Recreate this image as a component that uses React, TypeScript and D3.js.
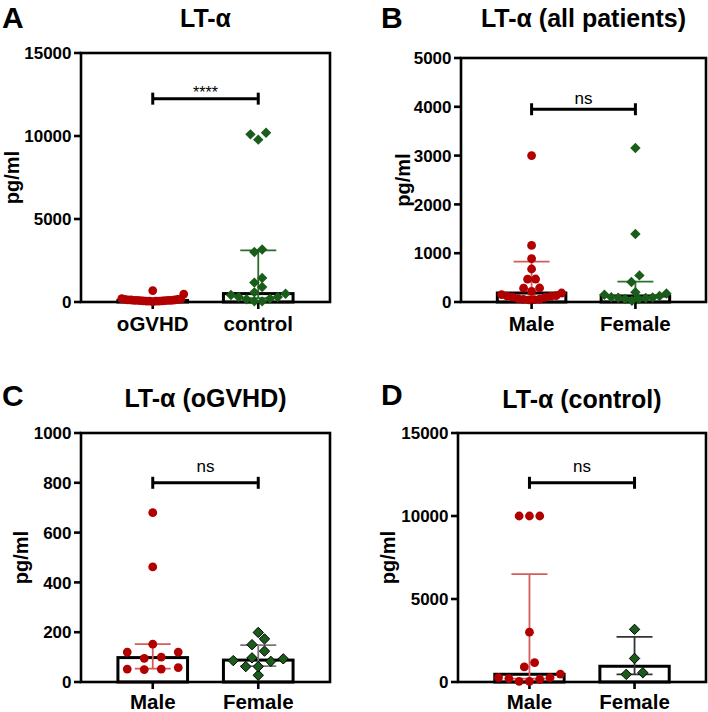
import React from "react";
import * as d3 from "d3";

// ---------- data ----------
const catsA = ["oGVHD", "control"];
const catsSex = ["Male", "Female"];
const yTicksA = [0, 5000, 10000, 15000];
const yTicksB = [0, 1000, 2000, 3000, 4000, 5000];
const yTicksC = [0, 200, 400, 600, 800, 1000];
const yTicksD = [0, 5000, 10000, 15000];

// Panel A
const aOGVHD = [690, 480, 199, 173, 152, 150, 124, 120, 120, 100, 97, 95, 93, 86, 83, 62, 62, 58, 52, 52, 50, 27];
const aControl = [10200, 9780, 10100, 3160, 3010, 1450, 1170, 900, 580, 500, 420, 300, 300, 205, 165, 40, 40];
const aOGVHDStats = [61, 96, 150]; // q1, median, q3
const aControlStats = [235, 506, 3114];

// Panel B
const bMale = [3000, 1160, 887, 676, 471, 468, 287, 283, 217, 184, 152, 129, 120, 115, 100, 95, 68, 58, 52, 50, 42];
const bFemale = [3156, 1393, 545, 410, 199, 173, 150, 124, 97, 93, 86, 83, 62, 62, 27];
const bMaleStats = [67, 184, 826];
const bFemaleStats = [83, 124, 416];

// Panel C
const cMale = [680, 462, 152, 120, 120, 100, 95, 58, 52, 52, 50];
const cFemale = [199, 173, 150, 124, 97, 93, 86, 83, 62, 62, 27];
const cMaleStats = [54, 98, 152];
const cFemaleStats = [64, 88, 148];

// Panel D
const dMale = [10000, 10000, 10000, 3000, 1171, 906, 480, 265, 265, 205, 163, 42, 42];
const dFemale = [3170, 1420, 560, 460];
const dMaleStats = [200, 465, 6503];
const dFemaleStats = [465, 948, 2717];

// significance
const sigA = { text: "****", value: 12250 };
const sigB = { text: "ns", value: 3950 };
const sigC = { text: "ns", value: 800 };
const sigD = { text: "ns", value: 12000 };

// ---------- styles ----------
const FONT = "'Liberation Sans', Arial, Helvetica, sans-serif";
const RED = "#b20000";
const GREEN = "#1a5c1a";
const RED_ERR = "#d45c5c";

type Group = {
  values: number[];
  stats: number[];
  shape: "circle" | "diamond";
  fill: string;
  stroke: string;
  errColor: string;
  s: number;
  maxW: number;
};

type PanelCfg = {
  letter: string;
  letterX: number;
  letterY: number;
  title: string;
  titleY: number;
  cats: string[];
  x0: number;
  x1: number;
  yTop: number;
  yBot: number;
  domain: [number, number];
  ticks: number[];
  ylabelX: number;
  catDy: number;
  groups: Group[];
  sig: { text: string; value: number };
  sigDy: number;
  sigSize: number;
};

const panels: PanelCfg[] = [
  {
    letter: "A", letterX: 2, letterY: 27.5, title: "LT-α", titleY: 27,
    cats: catsA, x0: 81, x1: 330, yTop: 53, yBot: 302, domain: [0, 15000], ticks: yTicksA, ylabelX: 19, catDy: 29,
    groups: [
      { values: aOGVHD, stats: aOGVHDStats, shape: "circle", fill: RED, stroke: "none", errColor: RED_ERR, s: 6, maxW: 62 },
      { values: aControl, stats: aControlStats, shape: "diamond", fill: GREEN, stroke: "none", errColor: "#2a6e2a", s: 7.8, maxW: 62 },
    ],
    sig: sigA, sigDy: 1, sigSize: 16,
  },
  {
    letter: "B", letterX: 381, letterY: 27.5, title: "LT-α (all patients)", titleY: 27,
    cats: catsSex, x0: 461, x1: 706, yTop: 58, yBot: 302, domain: [0, 5000], ticks: yTicksB, ylabelX: 410, catDy: 29,
    groups: [
      { values: bMale, stats: bMaleStats, shape: "circle", fill: RED, stroke: "none", errColor: RED_ERR, s: 8, maxW: 60 },
      { values: bFemale, stats: bFemaleStats, shape: "diamond", fill: GREEN, stroke: "none", errColor: "#2a742a", s: 8, maxW: 62 },
    ],
    sig: sigB, sigDy: 5, sigSize: 17,
  },
  {
    letter: "C", letterX: 2, letterY: 406, title: "LT-α (oGVHD)", titleY: 407,
    cats: catsSex, x0: 81, x1: 330, yTop: 433, yBot: 682, domain: [0, 1000], ticks: yTicksC, ylabelX: 27.5, catDy: 26.5,
    groups: [
      { values: cMale, stats: cMaleStats, shape: "circle", fill: RED, stroke: "none", errColor: RED_ERR, s: 17, maxW: 60 },
      { values: cFemale, stats: cFemaleStats, shape: "diamond", fill: GREEN, stroke: "#000", errColor: "#777", s: 12.5, maxW: 65 },
    ],
    sig: sigC, sigDy: 10.5, sigSize: 17,
  },
  {
    letter: "D", letterX: 381, letterY: 405, title: "LT-α (control)", titleY: 408,
    cats: catsSex, x0: 458, x1: 706, yTop: 433, yBot: 682, domain: [0, 15000], ticks: yTicksD, ylabelX: 395, catDy: 26.5,
    groups: [
      { values: dMale, stats: dMaleStats, shape: "circle", fill: RED, stroke: "none", errColor: RED_ERR, s: 10.3, maxW: 65 },
      { values: dFemale, stats: dFemaleStats, shape: "diamond", fill: GREEN, stroke: "#000", errColor: "#333", s: 16.6, maxW: 65 },
    ],
    sig: sigD, sigDy: 10.5, sigSize: 17,
  },
];

// Prism-like row scatter layout
function layoutPoints(values: number[], y: d3.ScaleLinear<number, number>, cx: number, s: number, maxW: number, rowH = 8) {
  const pts = values.map((v) => ({ v, py: y(v) })).sort((a, b) => a.v - b.v);
  const out: { x: number; y: number }[] = [];
  let i = 0;
  while (i < pts.length) {
    const start = pts[i].py;
    let j = i;
    while (j < pts.length && start - pts[j].py < rowH) j++;
    const row = pts.slice(i, j);
    const n = row.length;
    const sp = n > 1 ? Math.min(s, maxW / (n - 1)) : 0;
    const offs = d3
      .range(n)
      .map((k) => (k - (n - 1) / 2) * sp)
      .sort((a, b) => Math.abs(a) - Math.abs(b) || a - b);
    row.forEach((p, k) => out.push({ x: cx + offs[k], y: p.py }));
    i = j;
  }
  return out;
}

function Panel({ p }: { p: PanelCfg }) {
  const y = d3.scaleLinear().domain(p.domain).range([p.yBot, p.yTop]);
  const x = d3.scalePoint<string>().domain(p.cats).range([p.x0, p.x1]).padding(0.68);
  const step = x.step();
  const barW = step * 0.66;
  const capW = 36;
  const midY = (p.yTop + p.yBot) / 2;
  const fmt = d3.format("d");
  const dh = 5.2;
  const diamond = `M0,${-dh}L${dh},0L0,${dh}L${-dh},0Z`;
  const xa = x(p.cats[0]) as number;
  const xb = x(p.cats[1]) as number;
  const sy = y(p.sig.value);

  return (
    <g>
      <text x={p.letterX} y={p.letterY} fontSize={30} fontWeight="bold">{p.letter}</text>
      <text x={(p.x0 + p.x1) / 2} y={p.titleY} fontSize={25} fontWeight="bold" textAnchor="middle">{p.title}</text>
      <text
        transform={`translate(${p.ylabelX},${midY}) rotate(-90)`}
        fontSize={20}
        fontWeight="bold"
        textAnchor="middle"
      >
        pg/ml
      </text>

      {/* bars */}
      {p.groups.map((g, gi) => {
        const cx = x(p.cats[gi]) as number;
        const m = y(g.stats[1]);
        return (
          <rect key={"b" + gi} x={cx - barW / 2} y={m} width={barW} height={p.yBot - m} fill="#fff" stroke="#000" strokeWidth={3} />
        );
      })}

      {/* frame */}
      <rect x={p.x0} y={p.yTop} width={p.x1 - p.x0} height={p.yBot - p.yTop} fill="none" stroke="#000" strokeWidth={2.6} />

      {/* y ticks */}
      {p.ticks.map((t) => (
        <g key={"t" + t}>
          <line x1={p.x0 - 7} x2={p.x0} y1={y(t)} y2={y(t)} stroke="#000" strokeWidth={2.6} />
          <text x={p.x0 - 9.5} y={y(t)} dy="0.36em" fontSize={17} fontWeight="bold" textAnchor="end">
            {fmt(t)}
          </text>
        </g>
      ))}

      {/* x ticks and labels */}
      {p.cats.map((c) => (
        <g key={"c" + c}>
          <line x1={x(c) as number} x2={x(c) as number} y1={p.yBot} y2={p.yBot + 7} stroke="#000" strokeWidth={2.6} />
          <text x={x(c) as number} y={p.yBot + p.catDy} fontSize={20.5} fontWeight="bold" textAnchor="middle">
            {c}
          </text>
        </g>
      ))}

      {/* error bars */}
      {p.groups.map((g, gi) => {
        const cx = x(p.cats[gi]) as number;
        const q1 = y(g.stats[0]);
        const q3 = y(g.stats[2]);
        return (
          <g key={"e" + gi} stroke={g.errColor} strokeWidth={1.8}>
            <line x1={cx} x2={cx} y1={q1} y2={q3} />
            <line x1={cx - capW / 2} x2={cx + capW / 2} y1={q1} y2={q1} />
            <line x1={cx - capW / 2} x2={cx + capW / 2} y1={q3} y2={q3} />
          </g>
        );
      })}

      {/* points */}
      {p.groups.map((g, gi) => {
        const cx = x(p.cats[gi]) as number;
        const pts = layoutPoints(g.values, y, cx, g.s, g.maxW);
        return (
          <g key={"p" + gi}>
            {pts.map((pt, k) =>
              g.shape === "circle" ? (
                <circle key={k} cx={pt.x} cy={pt.y} r={4.4} fill={g.fill} />
              ) : (
                <path
                  key={k}
                  d={diamond}
                  transform={`translate(${pt.x},${pt.y})`}
                  fill={g.fill}
                  stroke={g.stroke}
                  strokeWidth={g.stroke === "none" ? 0 : 1}
                />
              )
            )}
          </g>
        );
      })}

      {/* significance bracket */}
      <g stroke="#000" strokeWidth={3}>
        <line x1={xa} x2={xb} y1={sy} y2={sy} />
        <line x1={xa} x2={xa} y1={sy - 6} y2={sy + 6} />
        <line x1={xb} x2={xb} y1={sy - 6} y2={sy + 6} />
      </g>
      <text x={(xa + xb) / 2} y={sy - p.sigDy} fontSize={p.sigSize} textAnchor="middle">
        {p.sig.text}
      </text>
    </g>
  );
}

export default function App() {
  return (
    <svg
      width={708}
      height={712}
      style={{ position: "absolute", left: 0, top: 0, background: "#fff" }}
      fontFamily={FONT}
    >
      <rect width={708} height={712} fill="#fff" />
      {panels.map((p) => (
        <Panel key={p.letter} p={p} />
      ))}
    </svg>
  );
}
